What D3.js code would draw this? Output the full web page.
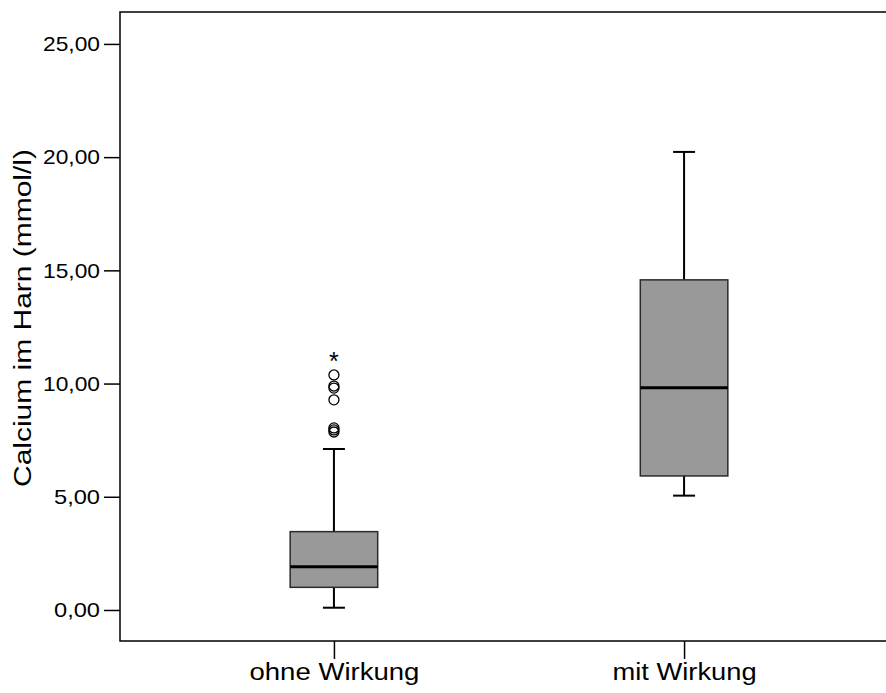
<!DOCTYPE html>
<html>
<head>
<meta charset="utf-8">
<script src="https://cdn.jsdelivr.net/npm/d3@7"></script>
<style>
  body { margin: 0; background: #fff; overflow: hidden; }
  svg { display: block; }
  text { font-family: "Liberation Sans", Arial, sans-serif; fill: #000; }
</style>
</head>
<body>
<script>
// box plot of urinary calcium, two groups (SPSS style)
var w = 886;
var h = 693;

// data
var categories = ["ohne Wirkung", "mit Wirkung"];
var whiskerLow  = [0.10, 5.05];
var q1          = [1.00, 5.92];
var median      = [1.91, 9.82];
var q3          = [3.46, 14.58];
var whiskerHigh = [7.11, 20.23];
// outliers (circles) and extremes (stars) of the first group
var outliers = [10.38, 9.89, 9.80, 9.28, 8.04, 7.95, 7.86];
var extremes = [11.07];
var yTicks = [0, 5, 10, 15, 20, 25];
var yTitle = "Calcium im Harn (mmol/l)";

// frame (right edge runs off the picture)
var m = { left: 120, top: 12, bottom: 641, right: 898 };

var y = d3.scaleLinear()
    .domain([-1.37, 26.41])
    .range([m.bottom, m.top]);

var x = d3.scalePoint()
    .domain(categories)
    .range([m.left, m.right])
    .padding(0.611);

var boxW = x.step() * 0.25;
var capW = 22;

var svg = d3.select("body").append("svg")
    .attr("width", w)
    .attr("height", h);

// frame: top, left and bottom edges only, the right one is outside the picture
svg.append("path")
    .attr("d", "M" + (w + 10) + "," + m.top + "H" + m.left + "V" + m.bottom + "H" + (w + 10))
    .attr("fill", "none").attr("stroke", "#000").attr("stroke-width", 1.5);

// y axis
var yAxis = d3.axisLeft(y)
    .tickValues(yTicks)
    .tickSize(16)
    .tickPadding(4)
    .tickFormat(function(d) { return d3.format(".2f")(d).replace(".", ","); });

var gy = svg.append("g")
    .attr("transform", "translate(" + m.left + ",0)")
    .call(yAxis);
gy.select(".domain").remove();
gy.selectAll(".tick line").attr("stroke", "#000").attr("stroke-width", 1.5);
gy.selectAll(".tick text")
    .attr("font-size", 21)
    .attr("font-family", "Liberation Sans, Arial, sans-serif")
    .attr("fill", "#000")
    .attr("textLength", function(d) { return d < 10 ? 46 : 57; })
    .attr("lengthAdjust", "spacingAndGlyphs");

// x axis
var xAxis = d3.axisBottom(x)
    .tickSize(18)
    .tickPadding(5);

var gx = svg.append("g")
    .attr("transform", "translate(0," + m.bottom + ")")
    .call(xAxis);
gx.select(".domain").remove();
gx.selectAll(".tick line").attr("stroke", "#000").attr("stroke-width", 1.5);
gx.selectAll(".tick text")
    .attr("font-size", 23)
    .attr("font-family", "Liberation Sans, Arial, sans-serif")
    .attr("fill", "#000")
    .attr("textLength", function(d, i) { return i === 0 ? 170 : 144; })
    .attr("lengthAdjust", "spacingAndGlyphs");

// y title
svg.append("text")
    .attr("transform", "translate(31,318) rotate(-90)")
    .attr("text-anchor", "middle")
    .attr("font-size", 23)
    .attr("textLength", 338)
    .attr("lengthAdjust", "spacingAndGlyphs")
    .text(yTitle);

// boxes
var g = svg.selectAll(".box")
    .data(categories)
    .enter().append("g")
    .attr("class", "box");

// whiskers
g.append("line")
    .attr("x1", function(d) { return x(d); })
    .attr("x2", function(d) { return x(d); })
    .attr("y1", function(d, i) { return y(whiskerLow[i]); })
    .attr("y2", function(d, i) { return y(q1[i]); })
    .attr("stroke", "#000").attr("stroke-width", 2);
g.append("line")
    .attr("x1", function(d) { return x(d); })
    .attr("x2", function(d) { return x(d); })
    .attr("y1", function(d, i) { return y(q3[i]); })
    .attr("y2", function(d, i) { return y(whiskerHigh[i]); })
    .attr("stroke", "#000").attr("stroke-width", 2);

// caps
g.append("line")
    .attr("x1", function(d) { return x(d) - capW / 2; })
    .attr("x2", function(d) { return x(d) + capW / 2; })
    .attr("y1", function(d, i) { return y(whiskerLow[i]); })
    .attr("y2", function(d, i) { return y(whiskerLow[i]); })
    .attr("stroke", "#000").attr("stroke-width", 2);
g.append("line")
    .attr("x1", function(d) { return x(d) - capW / 2; })
    .attr("x2", function(d) { return x(d) + capW / 2; })
    .attr("y1", function(d, i) { return y(whiskerHigh[i]); })
    .attr("y2", function(d, i) { return y(whiskerHigh[i]); })
    .attr("stroke", "#000").attr("stroke-width", 2);

// box
g.append("rect")
    .attr("x", function(d) { return x(d) - boxW / 2; })
    .attr("y", function(d, i) { return y(q3[i]); })
    .attr("width", boxW)
    .attr("height", function(d, i) { return y(q1[i]) - y(q3[i]); })
    .attr("fill", "#999999")
    .attr("stroke", "#2b2b2b").attr("stroke-width", 1.5);

// median
g.append("line")
    .attr("x1", function(d) { return x(d) - boxW / 2; })
    .attr("x2", function(d) { return x(d) + boxW / 2; })
    .attr("y1", function(d, i) { return y(median[i]); })
    .attr("y2", function(d, i) { return y(median[i]); })
    .attr("stroke", "#000").attr("stroke-width", 3);

// outliers
svg.selectAll(".outlier")
    .data(outliers)
    .enter().append("circle")
    .attr("class", "outlier")
    .attr("cx", x(categories[0]))
    .attr("cy", function(d) { return y(d); })
    .attr("r", 5)
    .attr("fill", "none")
    .attr("stroke", "#000").attr("stroke-width", 1.3);

svg.selectAll(".extreme")
    .data(extremes)
    .enter().append("text")
    .attr("class", "extreme")
    .attr("x", x(categories[0]))
    .attr("y", function(d) { return y(d) + 11; })
    .attr("text-anchor", "middle")
    .attr("font-size", 25)
    .text("*");
</script>
</body>
</html>
